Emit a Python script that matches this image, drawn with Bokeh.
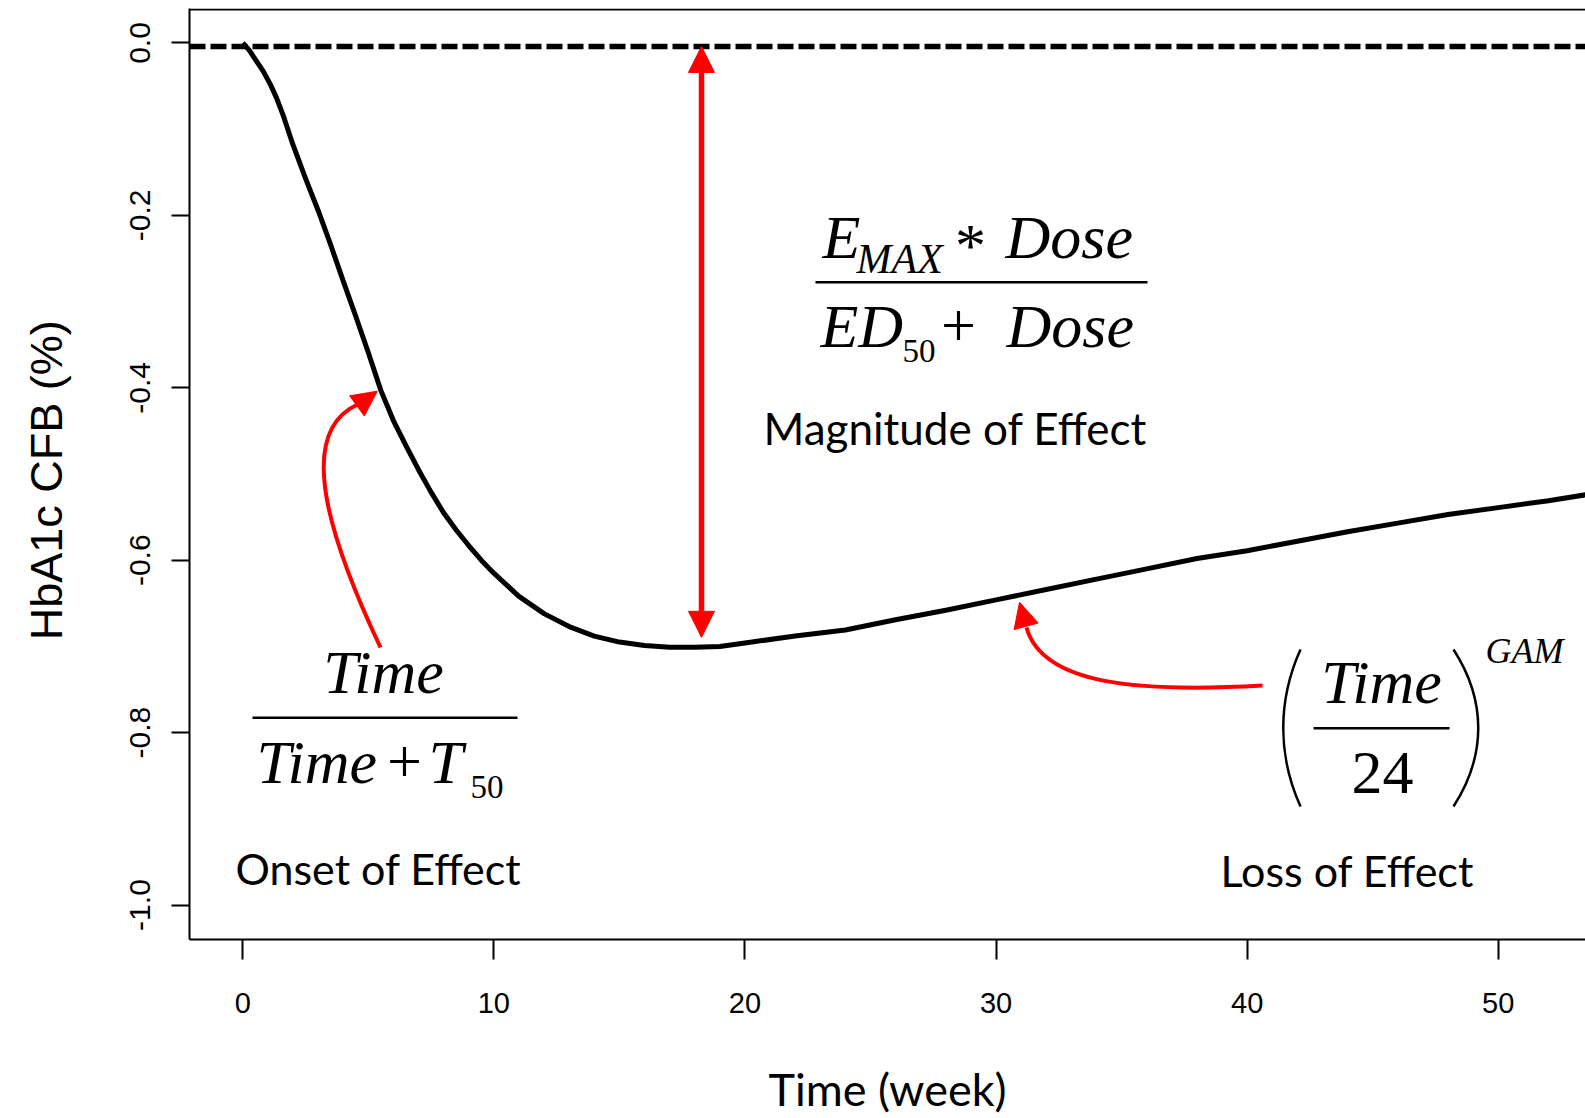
import numpy as np
from bokeh.plotting import figure
from bokeh.models import (Range1d, FixedTicker, Span, Label, Arrow, NormalHead,
                          CustomJSTickFormatter)
from bokeh.embed import file_html
from bokeh.resources import INLINE

# ---------------- data ----------------
weeks = [0, 0.25, 0.5, 0.8, 1.1, 1.35, 1.6, 2.0, 2.5, 3.0, 3.5, 4.0, 4.5, 5.0,
         5.5, 6.0, 6.5, 7.0, 7.5, 8.0, 8.5, 9.0, 9.5, 10, 11, 12, 13, 14, 15, 16,
         17, 18, 19, 20, 22, 24, 26, 28, 30, 32, 34, 36, 38, 40, 42, 44, 46, 48,
         50, 52, 53.5]
hba1c_cfb = [0.0, -0.008, -0.019, -0.032, -0.048, -0.064, -0.083, -0.118, -0.157,
             -0.194, -0.234, -0.276, -0.317, -0.359, -0.403, -0.438, -0.467, -0.495,
             -0.521, -0.545, -0.565, -0.583, -0.600, -0.615, -0.642, -0.662, -0.677,
             -0.688, -0.695, -0.699, -0.701, -0.701, -0.700, -0.696, -0.688, -0.681,
             -0.669, -0.658, -0.646, -0.634, -0.622, -0.610, -0.598, -0.589, -0.578,
             -0.567, -0.557, -0.547, -0.539, -0.531, -0.524]
x_ticks = [0, 10, 20, 30, 40, 50]
x_tick_labels = ["0", "10", "20", "30", "40", "50"]
y_ticks = [-1.0, -0.8, -0.6, -0.4, -0.2, 0.0]
y_tick_labels = ["-1.0", "-0.8", "-0.6", "-0.4", "-0.2", "0.0"]
baseline_level = -0.004          # dashed reference line
emax_week = 18.27                # position of the magnitude arrow
emax_bottom = -0.6895

# ---------------- layout ----------------
W, H = 1585, 1118
FRAME_LEFT, FRAME_TOP = 189, 8
FRAME_W, FRAME_H = W - FRAME_LEFT, 939 - FRAME_TOP
X0 = -2.12
X1 = X0 + FRAME_W / 25.11
Y0, Y1 = -1.04, 0.04

def wx(px):   # canvas x -> data x (annotation placement)
    return X0 + (px - FRAME_LEFT) * (X1 - X0) / FRAME_W

def vy(py):   # canvas y -> data y (annotation placement)
    return Y1 - (py - FRAME_TOP) * (Y1 - Y0) / FRAME_H

p = figure(width=W, height=H, x_range=Range1d(X0, X1), y_range=Range1d(Y0, Y1),
           output_backend="svg", toolbar_location=None,
           min_border_left=FRAME_LEFT, min_border_top=FRAME_TOP,
           min_border_right=0, min_border_bottom=H - FRAME_TOP - FRAME_H)
p.outline_line_color = None
p.grid.visible = False
p.background_fill_color = "white"
p.border_fill_color = "white"

fmt_code = ("const i = tvals.findIndex(t => Math.abs(t - tick) < 1e-9);"
            "return i >= 0 ? tlabels[i] : '';")

xa = p.xaxis[0]
xa.ticker = FixedTicker(ticks=x_ticks)
xa.formatter = CustomJSTickFormatter(args=dict(tvals=x_ticks, tlabels=x_tick_labels), code=fmt_code)
xa.major_tick_out = 20
xa.major_tick_in = 0
xa.minor_tick_line_color = None
xa.axis_line_width = 2
xa.major_tick_line_width = 2
xa.major_label_text_font = "Liberation Sans"
xa.major_label_text_font_size = "29px"
xa.major_label_text_color = "black"
xa.major_label_standoff = 33
xa.axis_label = "Time (week)"
xa.axis_label_text_font = "Lato"
xa.axis_label_text_font_size = "45px"
xa.axis_label_text_font_style = "normal"
xa.axis_label_text_color = "black"
xa.axis_label_standoff = 46

ya = p.yaxis[0]
ya.ticker = FixedTicker(ticks=y_ticks)
ya.formatter = CustomJSTickFormatter(args=dict(tvals=y_ticks, tlabels=y_tick_labels), code=fmt_code)
ya.major_tick_out = 18
ya.major_tick_in = 0
ya.minor_tick_line_color = None
ya.axis_line_width = 2
ya.major_tick_line_width = 2
ya.major_label_orientation = "vertical"
ya.major_label_text_font = "Liberation Sans"
ya.major_label_text_font_size = "30px"
ya.major_label_text_color = "black"
ya.major_label_standoff = 21
ya.axis_label = "HbA1c  CFB (%)"
ya.axis_label_text_font = "Liberation Sans"
ya.axis_label_text_font_size = "45px"
ya.axis_label_text_font_style = "normal"
ya.axis_label_text_color = "black"
ya.axis_label_standoff = 56

# top border of the box
p.add_layout(Span(location=vy(FRAME_TOP + 1), dimension="width", line_color="black", line_width=2))

# dashed reference line
p.add_layout(Span(location=baseline_level, dimension="width", line_color="black",
                  line_width=5.5, line_dash="16 5"))

# model curve
p.line(weeks, hba1c_cfb, line_color="black", line_width=5, line_join="round")

RED = "#ff0000"
# magnitude arrow (double headed)
p.add_layout(Arrow(start=NormalHead(size=26, fill_color=RED, line_color=RED),
                   end=NormalHead(size=26, fill_color=RED, line_color=RED),
                   x_start=emax_week, y_start=baseline_level,
                   x_end=emax_week, y_end=emax_bottom,
                   line_color=RED, line_width=5.5))

# onset curved arrow
p.bezier(x0=[wx(380)], y0=[vy(647)], x1=[wx(357)], y1=[vy(404)],
         cx0=[wx(320)], cy0=[vy(520)], cx1=[wx(300)], cy1=[vy(430)],
         line_color=RED, line_width=4)
p.add_layout(Arrow(end=NormalHead(size=25, fill_color=RED, line_color=RED),
                   x_start=wx(355.3), y_start=vy(406.3), x_end=wx(376.7), y_end=vy(390.7),
                   line_alpha=0, line_width=1))

# loss-of-effect curved arrow
p.bezier(x0=[wx(1262)], y0=[vy(685)], x1=[wx(1026)], y1=[vy(627)],
         cx0=[wx(1140)], cy0=[vy(692)], cx1=[wx(1042)], cy1=[vy(685)],
         line_color=RED, line_width=4)
p.add_layout(Arrow(end=NormalHead(size=25, fill_color=RED, line_color=RED),
                   x_start=wx(1026), y_start=vy(627), x_end=wx(1019), y_end=vy(601.7),
                   line_alpha=0, line_width=1))

# fraction bars and parentheses
p.segment(x0=[wx(815), wx(252), wx(1313)], y0=[vy(281.7), vy(717.3), vy(727.7)],
          x1=[wx(1147), wx(517), wx(1449)], y1=[vy(281.7), vy(717.3), vy(727.7)],
          line_color="black", line_width=2.6)
p.bezier(x0=[wx(1300), wx(1453)], y0=[vy(649), vy(649)],
         x1=[wx(1300), wx(1453)], y1=[vy(806), vy(806)],
         cx0=[wx(1277), wx(1486)], cy0=[vy(700), vy(700)],
         cx1=[wx(1277), wx(1486)], cy1=[vy(755), vy(755)],
         line_color="black", line_width=2.5)

SERIF = "Liberation Serif"
SANS = "Lato"

def lab(px, py, text, size, font=SERIF, style="normal", align="left"):
    # baseline correction measured from the renderer
    k = 0.39 if font == SANS else 0.345
    p.add_layout(Label(x=wx(px), y=vy(py - k * size), text=text, text_font=font,
                       text_font_size=f"{size}px", text_font_style=style,
                       text_align=align, text_baseline="alphabetic",
                       text_color="black"))

# magnitude formula
lab(822, 258, "E", 62, style="italic")
lab(856, 273, "MAX", 42, style="italic")
lab(970, 266, "*", 62, align="center")
lab(1005, 258, "Dose", 62, style="italic")
lab(820, 347, "ED", 62, style="italic")
lab(902, 362, "50", 33)
lab(958, 347, "+", 62, align="center")
lab(1006, 347, "Dose", 62, style="italic")
lab(763, 445, "Magnitude of Effect", 44, font=SANS)

# onset formula
lab(383, 693, "Time", 62, style="italic", align="center")
lab(256, 783, "Time", 62, style="italic")
lab(404, 783, "+", 62, align="center")
lab(428, 783, "T", 62, style="italic")
lab(470, 798, "50", 33)
lab(235, 885, "Onset of Effect", 43, font=SANS)

# loss formula
lab(1381, 703, "Time", 62, style="italic", align="center")
lab(1382, 794, "24", 62, align="center")
lab(1485, 663, "GAM", 36, style="italic")
lab(1220, 887, "Loss of Effect", 43, font=SANS)

open("out.html", "w").write(file_html(p, INLINE))
